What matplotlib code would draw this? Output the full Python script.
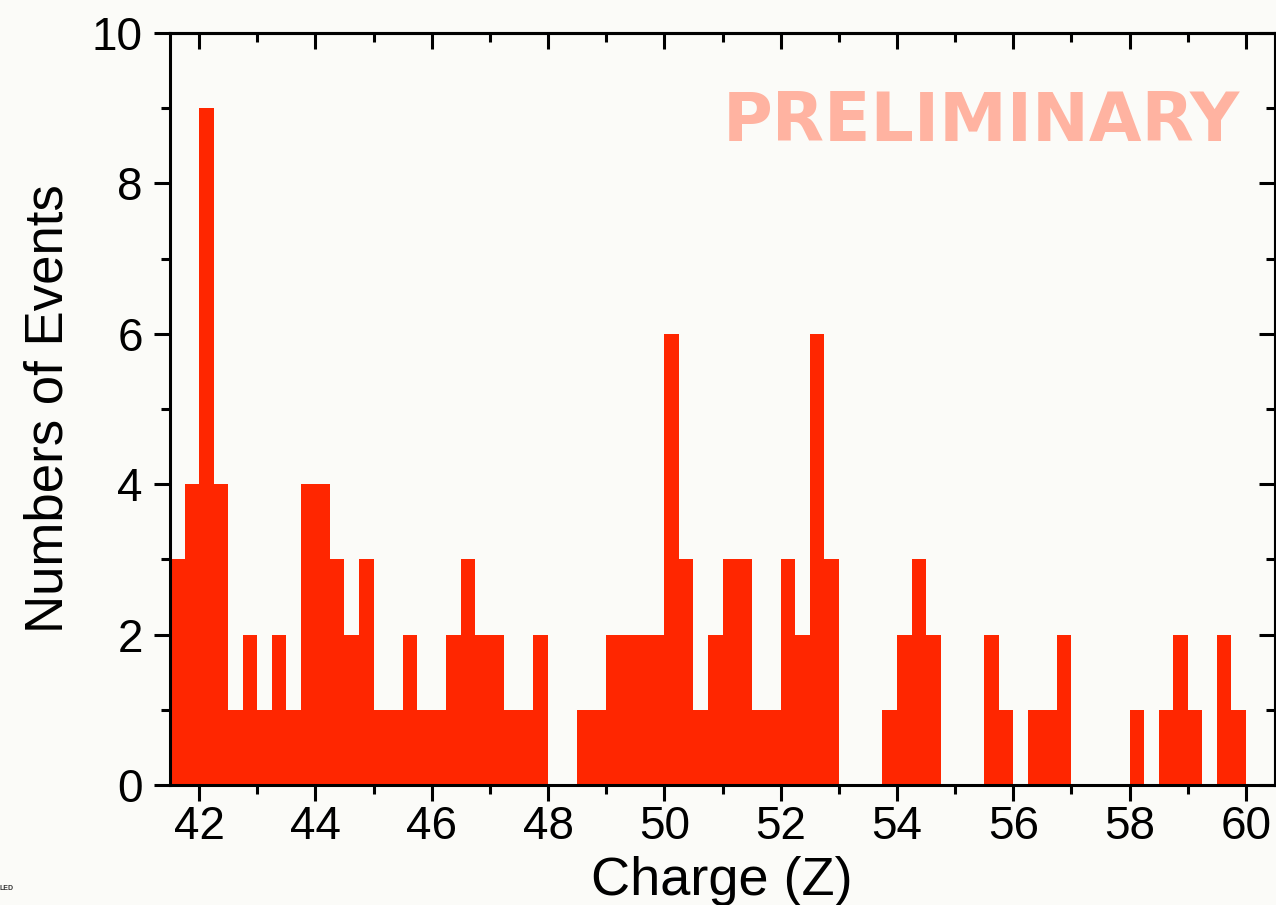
import matplotlib
matplotlib.use("Agg")
import matplotlib.pyplot as plt
import numpy as np
from matplotlib.ticker import MultipleLocator

# Histogram of reconstructed charge, 0.25-wide bins from Z = 41.5
bin_start = 41.5
bin_width = 0.25
counts = [
    3, 4, 9, 4, 1, 2, 1, 2, 1, 4, 4, 3, 2, 3, 1, 1,   # 41.50 - 45.25
    2, 1, 1, 2, 3, 2, 2, 1, 1, 2, 0, 0, 1, 1, 2, 2,   # 45.50 - 49.25
    2, 2, 6, 3, 1, 2, 3, 3, 1, 1, 3, 2, 6, 3, 0, 0,   # 49.50 - 53.25
    0, 1, 2, 3, 2, 0, 0, 0, 2, 1, 0, 1, 1, 2, 0, 0,   # 53.50 - 57.25
    0, 0, 1, 0, 1, 2, 1, 0, 2, 1, 0, 0,               # 57.50 - 60.25
]
x_ticks = [42, 44, 46, 48, 50, 52, 54, 56, 58, 60]
y_ticks = [0, 2, 4, 6, 8, 10]

bin_left = bin_start + bin_width * np.arange(len(counts))

W, H = 1276, 905
bg = "#fbfbf8"
bar_color = "#ff2600"
lw = 2.2

plt.rcParams["font.family"] = ["Liberation Sans", "DejaVu Sans"]

fig = plt.figure(figsize=(W / 100, H / 100), dpi=100, facecolor=bg)
ax = fig.add_axes([170 / W, 1 - 785 / H, (1275 - 170) / W, (785 - 33) / H])
ax.set_facecolor(bg)

ax.bar(bin_left, counts, width=bin_width, align="edge", color=bar_color,
       linewidth=0, zorder=2)

ax.set_xlim(41.5, 60.5)
ax.set_ylim(0, 10)
ax.set_xticks(x_ticks)
ax.set_yticks(y_ticks)
ax.xaxis.set_minor_locator(MultipleLocator(1))
ax.yaxis.set_minor_locator(MultipleLocator(1))

for s in ax.spines.values():
    s.set_linewidth(lw)
    s.set_color("black")
    s.set_zorder(3)

ax.tick_params(which="both", bottom=True, left=True, top=False, right=False,
               direction="out", width=lw, color="black")
ax.tick_params(which="major", length=11.5, labelsize=33)
ax.tick_params(which="minor", length=6.5)
ax.tick_params(axis="x", which="major", pad=3)
ax.tick_params(axis="y", which="major", pad=8)

# mirrored ticks on the top and right spines point into the plot
axt = ax.secondary_xaxis("top")
axt.set_xticks(x_ticks)
axt.xaxis.set_minor_locator(MultipleLocator(1))
axt.tick_params(which="both", direction="in", width=lw, labeltop=False)
axt.tick_params(which="major", length=11.5)
axt.tick_params(which="minor", length=6.5)
axt.spines["top"].set_linewidth(lw)

axr = ax.secondary_yaxis("right")
axr.set_yticks(y_ticks)
axr.yaxis.set_minor_locator(MultipleLocator(1))
axr.tick_params(which="both", direction="in", width=lw, labelright=False)
axr.tick_params(which="major", length=11.5)
axr.tick_params(which="minor", length=6.5)
axr.spines["right"].set_linewidth(lw)

# axis titles
fig.text(722 / W, 1 - 895 / H, "Charge (Z)", fontsize=39, ha="center",
         va="baseline", rotation_mode="anchor")
fig.text(63 / W, 1 - 409 / H, "Numbers of Events", fontsize=38, rotation=90,
         ha="center", va="baseline", rotation_mode="anchor")

ax.text((1240 - 170) / 1105, (785 - 141) / 752, "PRELIMINARY",
        transform=ax.transAxes, ha="right", va="baseline",
        fontsize=49, fontweight="bold", color="#ffb3a1", family="DejaVu Sans",
        zorder=4)

fig.text(0.0, 1 - 888 / H, "LED", fontsize=5, fontweight="bold", color="#333333",
         ha="left", va="center")

fig.savefig("out.png", dpi=100, facecolor=bg)
